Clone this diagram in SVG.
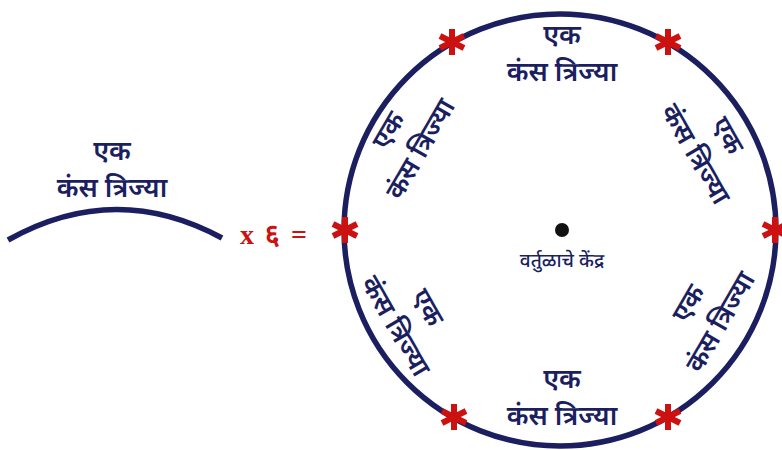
<svg xmlns="http://www.w3.org/2000/svg" width="782" height="450" viewBox="0 0 782 450">
<defs>
<style>
.t{font-family:"Noto Sans Devanagari","Noto Sans",sans-serif;font-size:27px;fill:#1b1f5f;text-anchor:middle;font-weight:600}
.s{font-family:"Noto Sans Devanagari","Noto Sans",sans-serif;font-size:19px;fill:#1b1f5f;text-anchor:middle;font-weight:500}
.line{fill:none;stroke:#1b1f5f;stroke-width:5.5}
.ast line{stroke:#cc1111;stroke-width:6}
.red{font-family:"Liberation Serif",serif;font-size:28px;fill:#cc1111;font-weight:bold;word-spacing:4px}
</style>
<g id="astsym" class="ast"><line x1="0" y1="-13" x2="0" y2="13"/><line x1="-12" y1="-6" x2="12" y2="6"/><line x1="-12" y1="6" x2="12" y2="-6"/></g>
</defs>
<g id="arc-label">
<path class="line" d="M8,240 Q115,180 222,238"/>
<text class="t" x="112" y="160">एक</text>
<text class="t" x="112" y="197">कंस त्रिज्या</text>
</g>
<g id="times"><text class="red" x="240" y="244">x ६ =</text></g>
<g id="circle">
<circle class="line" cx="560" cy="230" r="216"/>
<circle cx="562" cy="230" r="7" fill="#111"/>
<text class="s" x="562" y="267">वर्तुळाचे केंद्र</text>
</g>
<g id="markers">
<use href="#astsym" x="452" y="42"/>
<use href="#astsym" x="668" y="42"/>
<use href="#astsym" x="345" y="230"/>
<use href="#astsym" x="775" y="230"/>
<use href="#astsym" x="454" y="417"/>
<use href="#astsym" x="668" y="417"/>
</g>
<g id="label-top" transform="translate(562,60)"><text class="t" y="-16">एक</text><text class="t" y="21">कंस त्रिज्या</text></g>
<g id="label-bottom" transform="translate(562,404)"><text class="t" y="-16">एक</text><text class="t" y="21">कंस त्रिज्या</text></g>
<g id="label-ul" transform="translate(410,143) rotate(-60)"><text class="t" y="-16">एक</text><text class="t" y="21">कंस त्रिज्या</text></g>
<g id="label-ur" transform="translate(706,148) rotate(60)"><text class="t" y="-16">एक</text><text class="t" y="21">कंस त्रिज्या</text></g>
<g id="label-ll" transform="translate(406,320) rotate(60)"><text class="t" y="-16">एक</text><text class="t" y="21">कंस त्रिज्या</text></g>
<g id="label-lr" transform="translate(710,316) rotate(-60)"><text class="t" y="-16">एक</text><text class="t" y="21">कंस त्रिज्या</text></g>
</svg>
